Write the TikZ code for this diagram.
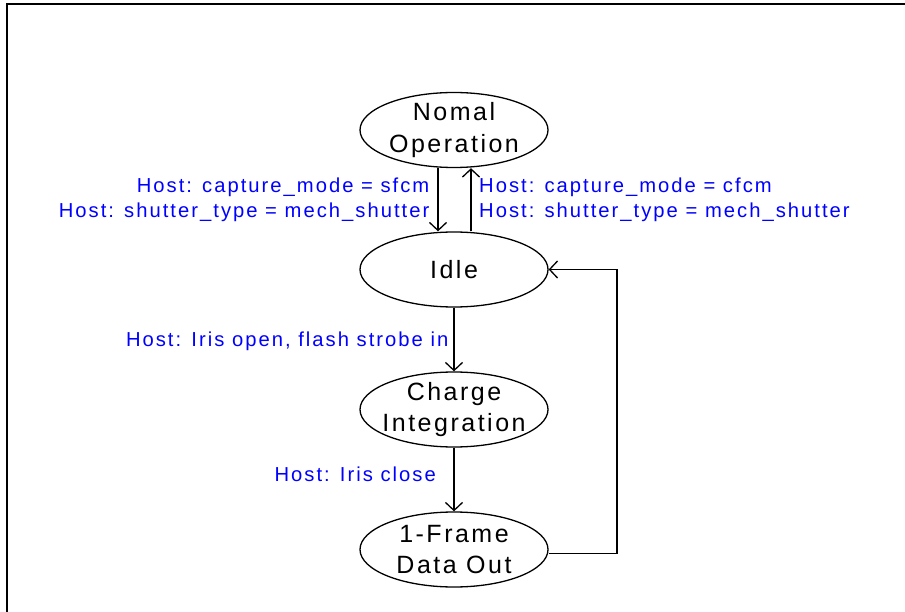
\documentclass[tikz,border=0pt]{standalone}
\usepackage{fontspec}
\setmainfont{Liberation Sans}[LetterSpace=10]
\usetikzlibrary{arrows.meta,shapes.geometric}
\tikzset{
  stnode/.style={ellipse, draw, line width=1.3pt, minimum width=188pt,
    minimum height=75pt, inner sep=-8pt, align=center,
    font=\fontsize{25}{31.6}\selectfont},
  trans/.style={line width=1.3pt,
    -{Straight Barb[length=8pt,width=17pt,line width=1.3pt]}},
  cond/.style={text=blue, inner sep=0pt, font=\fontsize{20.2}{25}\selectfont},
}
\begin{document}
\begin{tikzpicture}[x=1pt,y=-1pt]
\useasboundingbox (0,0) rectangle (905,612);
% frame
\draw[line width=2pt] (905,4.5) -- (7,4.5) -- (7,612);

% states
\node[stnode] (nomal)  at (454,130)   {Nomal\\Operation};
\node[stnode] (idle)   at (454,269.5) {Idle};
\node[stnode] (charge) at (454,409.5) {Charge\\Integration};
\node[stnode] (frame)  at (454,549.5) {1-Frame\\Data Out};

% transitions
\draw[trans] ([xshift=-16pt]nomal.south) -- ([xshift=-16pt]idle.north);
\draw[trans] ([xshift=17pt]idle.north) -- ([xshift=17pt]nomal.south);
\draw[trans] (idle) -- (charge);
\draw[trans] (charge) -- (frame);
\coordinate (turn) at (617,269.5);
\draw[trans] ([yshift=-4pt]frame.east) -| (turn) -- (idle.east);

% conditions (base anchor sits on the last line)
\node[cond, anchor=base east, align=right] (c1) at (429.5,217.7)
  {Host: capture\_mode = sfcm\\Host: shutter\_type = mech\_shutter};
\node[cond, anchor=base west, align=left] (c2) at (479,217.7)
  {Host: capture\_mode = cfcm\\Host: shutter\_type = mech\_shutter};
\node[cond, anchor=base east] (c3) at (448.5,346.7)
  {Host: Iris open, flash strobe in};
\node[cond, anchor=base east] (c4) at (436,481.7)
  {Host: Iris close};
\end{tikzpicture}
\end{document}
